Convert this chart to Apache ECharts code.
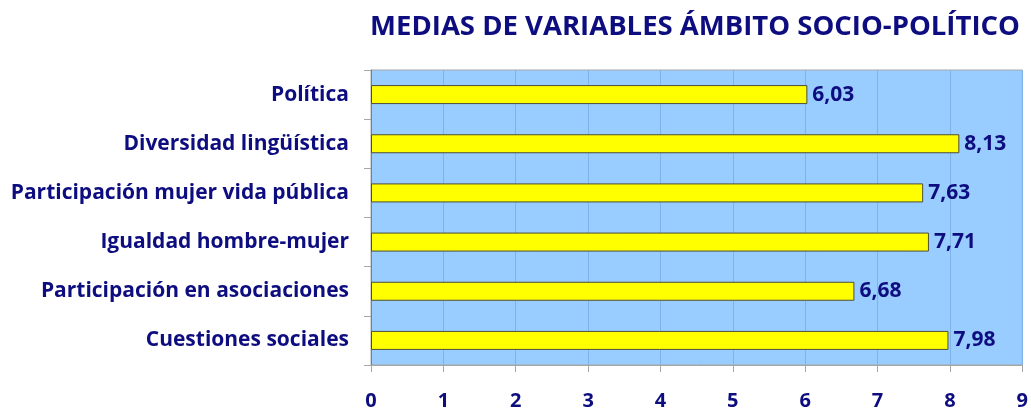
<!DOCTYPE html>
<html>
<head>
<meta charset="utf-8">
<script src="https://cdn.jsdelivr.net/npm/echarts@6/dist/echarts.min.js"></script>
<style>
  html, body { margin: 0; padding: 0; background: #fff; }
  #chart { width: 1031px; height: 413px; }
</style>
</head>
<body>
<div id="chart"></div>
<script>
// Categories (top to bottom) and their mean scores
const categories = [
  'Política',
  'Diversidad lingüística',
  'Participación mujer vida pública',
  'Igualdad hombre-mujer',
  'Participación en asociaciones',
  'Cuestiones sociales'
];
const means = [6.03, 8.13, 7.63, 7.71, 6.68, 7.98];
const axisMin = 0;
const axisMax = 9;
const axisStep = 1;

const navy = '#0d0d80';
const fontFamily = '"Open Sans", "DejaVu Sans", sans-serif';

const chart = echarts.init(document.getElementById('chart'));
chart.setOption({
  animation: false,
  backgroundColor: '#ffffff',
  title: {
    text: 'MEDIAS DE VARIABLES ÁMBITO SOCIO-POLÍTICO',
    left: 690,
    textAlign: 'center',
    top: 8,
    textStyle: { color: navy, fontSize: 27.5, fontWeight: 'bold', fontFamily: fontFamily }
  },
  grid: {
    left: 371, right: 7, top: 70, bottom: 48,
    show: true,
    backgroundColor: '#99ccff',
    borderColor: '#a6a6a6',
    borderWidth: 1
  },
  xAxis: {
    type: 'value',
    min: axisMin, max: axisMax, interval: axisStep,
    axisLine: { show: true, lineStyle: { color: '#a6a6a6' } },
    axisTick: { show: true, length: 7, lineStyle: { color: '#a6a6a6' } },
    splitLine: { show: true, lineStyle: { color: '#7fb2e6', width: 1 } },
    axisLabel: {
      color: navy, fontSize: 20, fontWeight: 'bold', fontFamily: fontFamily,
      margin: 26
    }
  },
  yAxis: {
    type: 'category',
    data: categories,
    inverse: true,
    axisLine: { show: true, lineStyle: { color: '#7f7f7f' } },
    axisTick: { show: true, length: 7, alignWithLabel: false, lineStyle: { color: '#a6a6a6' } },
    axisLabel: {
      color: navy, fontSize: 21, fontWeight: 'bold', fontFamily: fontFamily,
      margin: 22
    }
  },
  series: [{
    type: 'bar',
    data: means,
    barWidth: 19,
    itemStyle: { color: '#ffff00', borderColor: '#4d4d3a', borderWidth: 1 },
    label: {
      show: true,
      position: 'right',
      distance: 5,
      color: navy, fontSize: 21, fontWeight: 'bold', fontFamily: fontFamily,
      formatter: p => p.value.toFixed(2).replace('.', ',')
    }
  }]
});
</script>
</body>
</html>
